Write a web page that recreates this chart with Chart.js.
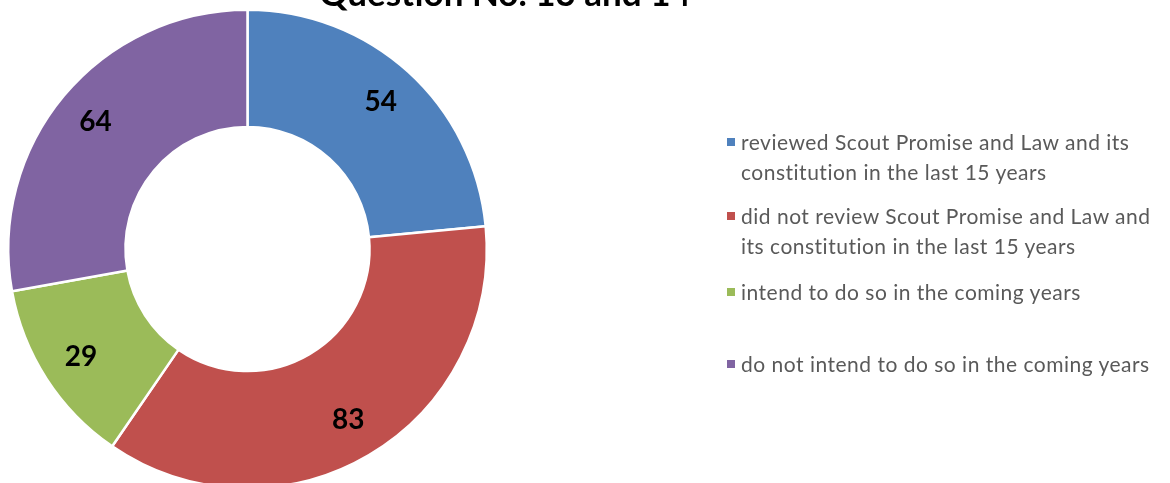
<!DOCTYPE html>
<html>
<head>
<meta charset="utf-8">
<script src="https://cdn.jsdelivr.net/npm/chart.js@4"></script>
<style>
  html, body { margin: 0; padding: 0; background: #fff; overflow: hidden; }
  #wrap { position: relative; width: 1170px; height: 483px; }
  #chartBox { position: absolute; left: 0; top: 0; width: 1170px; height: 500px; }
  #legend { position: absolute; left: 0; top: 0; font-family: Lato, sans-serif; font-size: 21px; letter-spacing: 0.5px; color: #595959; }
  .item { position: absolute; left: 727px; white-space: nowrap; line-height: 29.5px; }
  .item .box { position: absolute; left: 0; top: 11px; width: 8px; height: 8px; }
  .item .txt { margin-left: 14px; }
</style>
</head>
<body>
<div id="wrap">
  <div id="chartBox"><canvas id="myChart"></canvas></div>
  <div id="legend"></div>
</div>
<script>
var chartTitle = 'Question No. 13 and 14';
var categories = [
  ['reviewed Scout Promise and Law and its', 'constitution in the last 15 years'],
  ['did not review Scout Promise and Law and', 'its constitution in the last 15 years'],
  ['intend to do so in the coming years'],
  ['do not intend to do so in the coming years']
];
var answers = [54, 83, 29, 64];
var sliceColors = ['#4F81BD', '#C0504D', '#9BBB59', '#8064A2'];

// title sits mostly above the visible area, like in the source picture
var titlePlugin = {
  id: 'topTitle',
  afterDraw: function (chart) {
    var c = chart.ctx;
    c.save();
    c.font = 'bold 35px Lato, sans-serif';
    c.fillStyle = '#000';
    c.textAlign = 'center';
    c.textBaseline = 'alphabetic';
    c.fillText(chartTitle, 505, 6);
    c.restore();
  }
};

var valueLabels = {
  id: 'valueLabels',
  afterDatasetsDraw: function (chart) {
    var c = chart.ctx;
    var meta = chart.getDatasetMeta(0);
    c.save();
    c.font = 'bold 28px Lato, sans-serif';
    c.fillStyle = '#000';
    c.textAlign = 'center';
    c.textBaseline = 'middle';
    meta.data.forEach(function (arc, i) {
      var p = arc.getProps(['x', 'y', 'startAngle', 'endAngle', 'innerRadius', 'outerRadius'], true);
      var mid = (p.startAngle + p.endAngle) / 2;
      var r = p.innerRadius + (p.outerRadius - p.innerRadius) * 0.65;
      c.fillText(String(chart.data.datasets[0].data[i]), p.x + Math.cos(mid) * r, p.y + Math.sin(mid) * r);
    });
    c.restore();
  }
};

var ctx = document.getElementById('myChart').getContext('2d');
var myChart = new Chart(ctx, {
  type: 'doughnut',
  data: {
    labels: categories,
    datasets: [{
      data: answers,
      backgroundColor: sliceColors,
      borderColor: '#fff',
      borderWidth: 2.5
    }]
  },
  options: {
    responsive: true,
    maintainAspectRatio: false,
    animation: false,
    cutout: '51%',
    layout: { padding: { left: 7, right: 682, top: 8, bottom: 10 } },
    plugins: {
      legend: { display: false },
      title: { display: false },
      tooltip: { enabled: false }
    }
  },
  plugins: [titlePlugin, valueLabels]
});

// legend drawn as html, spaced like the original
var legendTops = [127, 201, 277, 349];
var legendEl = document.getElementById('legend');
categories.forEach(function (lines, i) {
  var item = document.createElement('div');
  item.className = 'item';
  item.style.top = legendTops[i] + 'px';
  item.innerHTML = '<span class="box" style="background:' + sliceColors[i] + '"></span>' +
    '<div class="txt">' + lines.join('<br>') + '</div>';
  legendEl.appendChild(item);
});
</script>
</body>
</html>
